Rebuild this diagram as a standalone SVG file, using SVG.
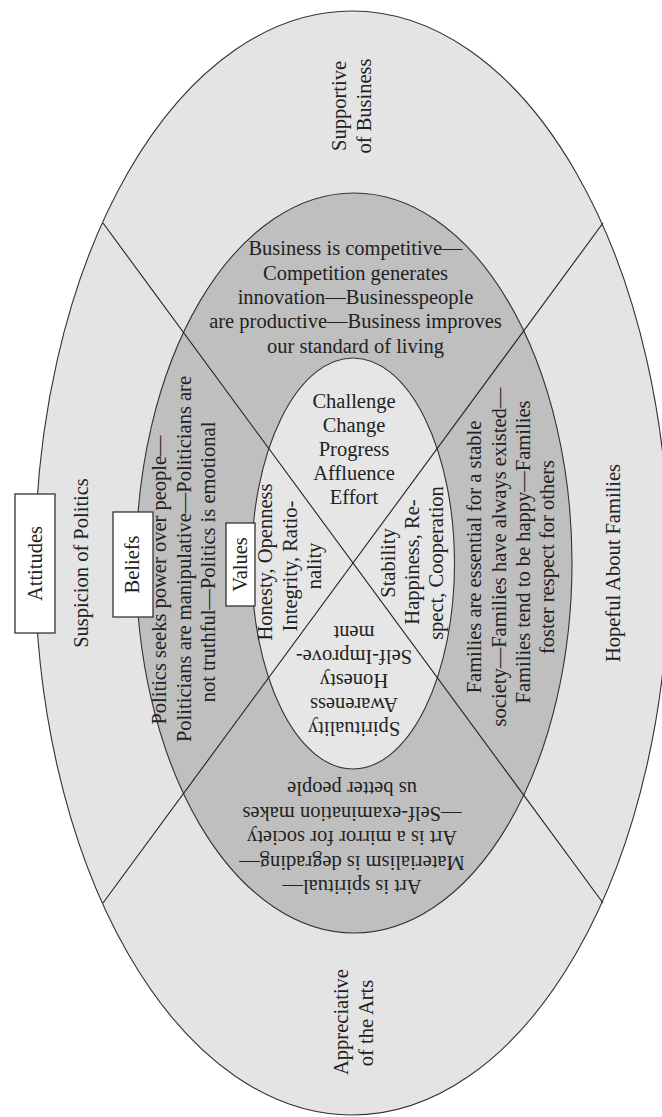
<svg xmlns="http://www.w3.org/2000/svg" width="662" height="1117" viewBox="0 0 662 1117">
<style>
.t{font-family:"Liberation Serif","Times New Roman",serif;font-size:20.5px;fill:#222;text-anchor:middle}
.ring{stroke:#333;stroke-width:1.1}
.box{fill:#fff;stroke:#333;stroke-width:1.3}
.ln{stroke:#222;stroke-width:1.1;fill:none}
</style>
<rect width="662" height="1117" fill="#fff"/>
<g id="attitudes-ring"><ellipse class="ring" cx="352" cy="563" rx="317" ry="552" fill="#e4e4e4"/></g>
<g id="beliefs-ring"><ellipse class="ring" cx="354" cy="563" rx="218" ry="370" fill="#bfbfbf"/></g>
<g id="values-ring"><ellipse class="ring" cx="353" cy="563.5" rx="101.5" ry="205.5" fill="#e6e6e6"/></g>
<g id="connectors">
<line class="ln" x1="103" y1="223" x2="603" y2="903"/>
<line class="ln" x1="603" y1="223" x2="103" y2="903"/>
</g>
<g id="attitudes-label">
<rect class="box" x="15" y="494" width="40" height="139"/>
<text class="t" transform="translate(42,563.5) rotate(-90)">Attitudes</text>
</g>
<g id="beliefs-label">
<rect class="box" x="113" y="512" width="40" height="105"/>
<text class="t" transform="translate(139,564.5) rotate(-90)">Beliefs</text>
</g>
<g id="values-label">
<rect class="box" x="226" y="523" width="29" height="83"/>
<text class="t" transform="translate(247,564.5) rotate(-90)">Values</text>
</g>
<g id="attitude-business">
<text class="t" transform="translate(346,106) rotate(-90)">Supportive</text>
<text class="t" transform="translate(370.5,106) rotate(-90)">of Business</text>
</g>
<g id="attitude-politics">
<text class="t" transform="translate(88,563) rotate(-90)">Suspicion of Politics</text>
</g>
<g id="attitude-families">
<text class="t" transform="translate(620,563) rotate(-90)">Hopeful About Families</text>
</g>
<g id="attitude-arts">
<text class="t" transform="translate(348,1022) rotate(-90)">Appreciative</text>
<text class="t" transform="translate(372.5,1023) rotate(-90)">of the Arts</text>
</g>
<g id="belief-business">
<text class="t" x="355.5" y="255">Business is competitive—</text>
<text class="t" x="355.5" y="279.5">Competition generates</text>
<text class="t" x="355.5" y="304">innovation—Businesspeople</text>
<text class="t" x="355.5" y="328">are productive—Business improves</text>
<text class="t" x="355.5" y="352.5">our standard of living</text>
</g>
<g id="belief-politics">
<text class="t" transform="translate(166,580) rotate(-90)">Politics seeks power over people—</text>
<text class="t" transform="translate(190.5,559) rotate(-90)">Politicians are manipulative—Politicians are</text>
<text class="t" transform="translate(215,562) rotate(-90)">not truthful—Politics is emotional</text>
</g>
<g id="belief-families">
<text class="t" transform="translate(481,557) rotate(-90)">Families are essential for a stable</text>
<text class="t" transform="translate(505.5,557) rotate(-90)">society—Families have always existed—</text>
<text class="t" transform="translate(530,552) rotate(-90)">Families tend to be happy—Families</text>
<text class="t" transform="translate(554,557) rotate(-90)">foster respect for others</text>
</g>
<g id="belief-arts">
<text class="t" transform="translate(352,880) rotate(180)">Art is spiritual—</text>
<text class="t" transform="translate(352,855.5) rotate(180)">Materialism is degrading—</text>
<text class="t" transform="translate(352,831) rotate(180)">Art is a mirror for society</text>
<text class="t" transform="translate(352,806.5) rotate(180)">—Self-examination makes</text>
<text class="t" transform="translate(352,782) rotate(180)">us better people</text>
</g>
<g id="value-business">
<text class="t" x="354" y="408">Challenge</text>
<text class="t" x="354" y="432">Change</text>
<text class="t" x="354" y="456">Progress</text>
<text class="t" x="354" y="480">Affluence</text>
<text class="t" x="354" y="503.5">Effort</text>
</g>
<g id="value-politics">
<text class="t" transform="translate(272,562) rotate(-90)">Honesty, Openness</text>
<text class="t" transform="translate(296.5,566) rotate(-90)">Integrity, Ratio-</text>
<text class="t" transform="translate(321,566) rotate(-90)">nality</text>
</g>
<g id="value-families">
<text class="t" transform="translate(394.5,563) rotate(-90)">Stability</text>
<text class="t" transform="translate(418.5,562) rotate(-90)">Happiness, Re-</text>
<text class="t" transform="translate(443,563) rotate(-90)">spect, Cooperation</text>
</g>
<g id="value-arts">
<text class="t" transform="translate(354,722) rotate(180)">Spirituality</text>
<text class="t" transform="translate(354,698) rotate(180)">Awareness</text>
<text class="t" transform="translate(354,674) rotate(180)">Honesty</text>
<text class="t" transform="translate(354,650) rotate(180)">Self-Improve-</text>
<text class="t" transform="translate(354,626) rotate(180)">ment</text>
</g>
</svg>
